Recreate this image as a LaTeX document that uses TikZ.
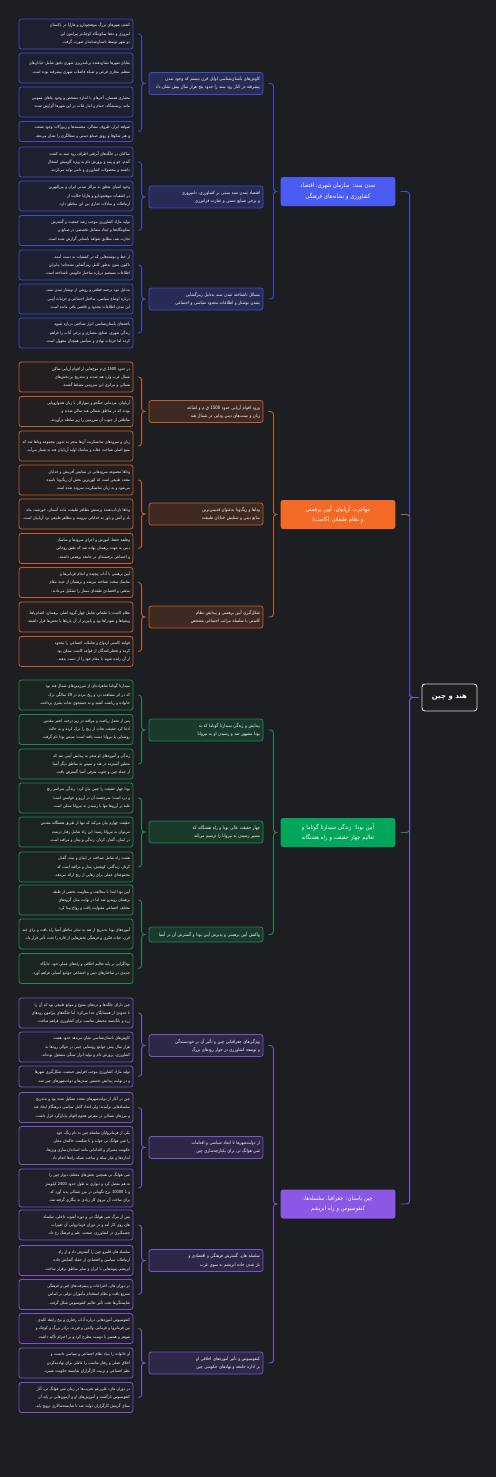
\documentclass[tikz,border=0pt]{standalone}
\usepackage{fontspec}
\usepackage{xcolor}
\usetikzlibrary{calc}
\newfontfamily\fa[Script=Arabic]{DejaVu Sans}
\newfontfamily\fanarrow[Script=Arabic, FakeStretch=0.85]{DejaVu Sans}
\TeXXeTstate=1
\newcommand\fatext[1]{\beginR #1\endR}
\newcommand\num[1]{\beginL #1\endL}

\definecolor{bg}{HTML}{1D1E22}
\definecolor{rootline}{HTML}{D9D9D9}
\definecolor{indusmain}{HTML}{4B5CF4}
\definecolor{indusline}{HTML}{3D4CD6}
\definecolor{indussub}{HTML}{272B55}
\definecolor{indusleaf}{HTML}{1E2030}
\definecolor{aryanmain}{HTML}{F26A25}
\definecolor{aryanline}{HTML}{CC5C26}
\definecolor{aryansub}{HTML}{3F2A22}
\definecolor{aryanleaf}{HTML}{231F20}
\definecolor{buddhamain}{HTML}{02A65A}
\definecolor{buddhaline}{HTML}{1B8C53}
\definecolor{buddhasub}{HTML}{1A3A2C}
\definecolor{buddhaleaf}{HTML}{1C2420}
\definecolor{chinamain}{HTML}{8A58E4}
\definecolor{chinaline}{HTML}{7A52D2}
\definecolor{chinasub}{HTML}{2E2747}
\definecolor{chinaleaf}{HTML}{211F2B}

\tikzset{
  leafbox/.style={draw=#1line, fill=#1leaf, rounded corners=2.5pt, line width=0.8pt, text width=108pt, inner xsep=3pt, inner ysep=2pt, minimum height=30pt, align=right, text=white!95!gray, font=\fanarrow\fontsize{4.2}{8.4}\selectfont},
  subbox/.style={draw=#1line, fill=#1sub, rounded corners=2.5pt, line width=0.8pt, text width=108pt, inner xsep=3pt, inner ysep=2pt, minimum height=22pt, align=right, text=white, font=\fanarrow\fontsize{4.6}{8.2}\selectfont},
  mainbox/.style={fill=#1main, rounded corners=2.5pt, text width=108pt, minimum height=29pt, align=center, text=white, font=\fanarrow\fontsize{6}{10.3}\selectfont},
  rootbox/.style={draw=rootline, fill=bg, rounded corners=3pt, line width=0.9pt, minimum width=55pt, minimum height=27pt, text=white, font=\fa\bfseries\fontsize{7}{9}\selectfont},
  link/.style={draw=#1line, line width=0.9pt, rounded corners=3pt},
}

% parent -> child, bracket #4 left of the parent
\newcommand\branch[4]{\draw[link=#1] let \p1=(#2.west), \p2=(#3.east) in (\x1-3,\y1) -- (\x1-#4,\y1) -- (\x1-#4,\y2) -- (\x2+5,\y2);}

\begin{document}
\begin{tikzpicture}[x=1pt, y=-1pt]
        \fill[bg] (0,0) rectangle (496,1477);

        % Root
        \node[rootbox] (root) at (449.5,697.5) {\fatext{هند و چین}};

        % Main topics
        \node[mainbox=indus] (indus) at (338,191.5) {\fatext{تمدن سند: سازمان شهری، اقتصاد کشاورزی و نشانه‌های فرهنگی}};
        \node[mainbox=aryan] (aryan) at (338,514.5) {\fatext{مهاجرت آریاییان، آیین برهمنی و نظام طبقاتی (کاست)}};
        \node[mainbox=buddha] (buddha) at (338,832.5) {\fatext{آیین بودا: زندگی سیدارتا گوتاما و تعالیم چهار حقیقت و راه هشتگانه}};
        \node[mainbox=china] (china) at (338,1204) {\fatext{چین باستان: جغرافیا، سلسله‌ها، کنفوسیوس و راه ابریشم}};

        % Indus
        \node[subbox=indus] (indus1) at (206,83.5) {\fatext{کاوش‌های باستان‌شناسی اوایل قرن بیستم که وجود تمدن پیشرفته در کنار رود سند را حدود پنج هزار سال پیش نشان داد}};
        \node[subbox=indus] (indus2) at (206,197) {\fatext{اقتصاد تمدن سند مبتنی بر کشاورزی، دامپروری و برخی صنایع دستی و تجارت فرامرزی}};
        \node[subbox=indus] (indus3) at (206,299) {\fatext{مسائل ناشناخته تمدن سند به‌دلیل رمزگشایی نشدن نوشتار و اطلاعات محدود سیاسی و اجتماعی}};

        \node[leafbox=indus] (indus1a) at (76,34) {\fatext{کشف شهرهای بزرگ موهنجودارو و هاراپا در پاکستان امروزی و ده‌ها سکونتگاه کوچک‌تر پیرامون این دو شهر توسط باستان‌شناسان صورت گرفت.}};
        \node[leafbox=indus] (indus1b) at (76,68) {\fatext{بقایای شهرها نشان‌دهنده برنامه‌ریزی شهری دقیق شامل خیابان‌های منظم، مجاری فرعی و شبکه فاضلاب شهری پیشرفته بوده است.}};
        \node[leafbox=indus] (indus1c) at (76,102) {\fatext{معماری همسان، آجرهای با اندازه مشخص و وجود بناهای عمومی مانند پرستشگاه، حمام و انبار غلات در این شهرها گزارش شده.}};
        \node[leafbox=indus, minimum height=20pt] (indus1d) at (76,131.5) {\fatext{شواهد ابزار، ظروف سفالی، مجسمه‌ها و زیورآلات وجود صنعت و هنر شکوفا و رونق صنایع دستی و سفالگری را نشان می‌دهد.}};
        \node[leafbox=indus] (indus2a) at (76,162) {\fatext{ساکنان در جلگه‌های آبرفتی اطراف رود سند به کشت گندم، جو و پنبه و پرورش دام به ویژه گاومیش اشتغال داشتند و محصولات کشاورزی و دامی تولید می‌کردند.}};
        \node[leafbox=indus] (indus2b) at (76,196) {\fatext{وجود اشیای متعلق به مراکز تمدنی ایران و بین‌النهرین در کشفیات موهنجودارو و هاراپا حکایت از ارتباطات و مبادلات تجاری بین این مناطق دارد.}};
        \node[leafbox=indus] (indus2c) at (76,230.5) {\fatext{تولید مازاد کشاورزی موجب رشد جمعیت و گسترش سکونتگاه‌ها و ایجاد مشاغل تخصصی در صنایع و تجارت شد، مطابق شواهد باستانی گزارش شده است.}};
        \node[leafbox=indus] (indus3a) at (76,265) {\fatext{از خط و نوشته‌هایی که در کشفیات به دست آمده، تاکنون متون به‌طور کامل رمزگشایی نشده‌اند؛ بنابراین اطلاعات مستقیم درباره ساختار حکومتی ناشناخته است.}};
        \node[leafbox=indus] (indus3b) at (76,299) {\fatext{به‌دلیل نبود ترجمه قطعی و روشن از نوشتار تمدن سند، درباره اوضاع سیاسی، ساختار اجتماعی و جزئیات آیینی این تمدن اطلاعات محدود و ناقصی باقی مانده است.}};
        \node[leafbox=indus] (indus3c) at (76,333) {\fatext{یافته‌های باستان‌شناسی ابزار شناختی درباره شیوه زندگی شهری، صنایع، معماری و برخی آداب را فراهم کرده اما جزئیات نهادی و سیاسی همچنان مجهول است.}};

        % Aryans
        \node[subbox=aryan] (aryan1) at (206,411.5) {\fatext{ورود اقوام آریایی حدود \num{1500} ق.م و اشاعه زبان و سنت‌های دینی ودایی در شمال هند}};
        \node[subbox=aryan] (aryan2) at (206,514) {\fatext{وداها و ریگ‌ودا به‌عنوان قدیمی‌ترین منابع دینی و ستایش خدایان طبیعت}};
        \node[subbox=aryan] (aryan3) at (206,617) {\fatext{شکل‌گیری آیین برهمنی و پیدایش نظام کاستی با سلسله مراتب اجتماعی مشخص}};

        \node[leafbox=aryan] (aryan1a) at (76,377) {\fatext{در حدود \num{1500} ق.م موج‌هایی از اقوام آریایی ساکن شمال غرب وارد هند شدند و به‌تدریج بر بخش‌های شمالی و مرکزی این سرزمین مسلط گشتند.}};
        \node[leafbox=aryan] (aryan1b) at (76,411.5) {\fatext{آریاییان، مردمانی جنگجو و سوارکار با زبان هندواروپایی بودند که در مناطق شمالی هند ساکن شدند و مناطقی از جنوب آن سرزمین را زیر سلطه درآوردند.}};
        \node[leafbox=aryan] (aryan1c) at (76,446) {\fatext{زبان و سرودهای سانسکریت آن‌ها منجر به تدوین مجموعه وداها شد که منبع اصلی شناخت عقاید و مناسک اولیه آریاییان هند به شمار می‌آید.}};
        \node[leafbox=aryan] (aryan2a) at (76,480) {\fatext{وداها مجموعه سرودهایی در ستایش آفرینش و خدایان متعدد طبیعی است که کهن‌ترین بخش آن ریگ‌ودا نامیده می‌شود و به زبان سانسکریت سروده شده است.}};
        \node[leafbox=aryan] (aryan2b) at (76,514) {\fatext{وداها بازتاب‌دهنده پرستش مظاهر طبیعت مانند آسمان، خورشید، ماه، باد و آتش و باور به خدایانی نیرومند و مظاهر طبیعی نزد آریاییان است.}};
        \node[leafbox=aryan] (aryan2c) at (76,548.5) {\fatext{وظیفه حفظ، آموزش و اجرای سرودها و مناسک دینی به عهده برهمنان نهاده شد که نقش روحانی و اجتماعی برجسته‌ای در جامعه برهمنی داشتند.}};
        \node[leafbox=aryan] (aryan3a) at (76,582.5) {\fatext{آیین برهمنی با آداب پیچیده و انجام قربانی‌ها و مناسک سخت شناخته می‌شد و برهمنان از حیث مقام مذهبی و اقتصادی طبقه‌ای ممتاز را تشکیل می‌دادند.}};
        \node[leafbox=aryan] (aryan3b) at (76,617) {\fatext{نظام کاست یا طبقاتی شامل چهار گروه اصلی برهمنان، کشاتریاها، ویشیاها و شودراها بود و پایین‌تر از آن پاریاها یا نجس‌ها قرار داشتند.}};
        \node[leafbox=aryan] (aryan3c) at (76,651.5) {\fatext{قواعد کاستی ازدواج و تعاملات اجتماعی را محدود کرده و تخطی‌کنندگان از قواعد کاست ممکن بود از آن رانده شوند یا مقام خود را از دست بدهند.}};

        % Buddha
        \node[subbox=buddha] (buddha1) at (206,730) {\fatext{پیدایش و زندگی سیدارتا گوتاما که به بودا مشهور شد و رسیدن او به نیروانا}};
        \node[subbox=buddha] (buddha2) at (206,832) {\fatext{چهار حقیقت عالی بودا و راه هشتگانه که مسیر رسیدن به نیروانا را ترسیم می‌کند}};
        \node[subbox=buddha, minimum height=15pt] (buddha3) at (206,934.5) {\fatext{واکنش آیین برهمنی و پذیرش آیین بودا و گسترش آن در آسیا}};

        \node[leafbox=buddha] (buddha1a) at (76,695) {\fatext{سیدارتا گوتاما شاهزاده‌ای از سرزمین‌های شمال هند بود که در اثر مشاهده درد و رنج مردم در \num{29} سالگی ترک خانواده و ریاضت کشید و به جستجوی نجات بشری پرداخت.}};
        \node[leafbox=buddha] (buddha1b) at (76,729.5) {\fatext{پس از تحمل ریاضت و مراقبه در زیر درخت انجیر مقدس ادعا کرد حقیقت نجات از رنج را درک کرده و به حالت روشنایی یا نیروانا دست یافته است؛ سپس بودا نام گرفت.}};
        \node[leafbox=buddha] (buddha1c) at (76,764) {\fatext{زندگی و آموزه‌های او منجر به پیدایش آیینی شد که به‌طور گسترده در هند و سپس به مناطق دیگر آسیا از جمله چین و جنوب شرقی آسیا گسترش یافت.}};
        \node[leafbox=buddha] (buddha2a) at (76,798) {\fatext{بودا چهار حقیقت را چنین بیان کرد: زندگی سراسر رنج و درد است؛ سرچشمه آن در آرزو و خواستن است؛ غلبه بر آرزوها تنها با رسیدن به نیروانا ممکن است.}};
        \node[leafbox=buddha] (buddha2b) at (76,832) {\fatext{حقیقت چهارم بیان می‌کند که تنها از طریق هشتگانه مقدس می‌توان به نیروانا رسید؛ این راه شامل رفتار درست در ایمان، گفتار، کردار، زندگی و پندار و مراقبه است.}};
        \node[leafbox=buddha] (buddha2c) at (76,867) {\fatext{هشت راه شامل صداقت در ایمان و نیت، گفتار، کردار، زندگانی، کوشش، پندار و مراقبه است که مجموعه‌ای عملی برای رهایی از رنج ارائه می‌دهد.}};
        \node[leafbox=buddha] (buddha3a) at (76,900) {\fatext{آیین بودا ابتدا با مخالفت و مقاومت بخشی از طبقه برهمنان روبه‌رو شد اما در نهایت میان گروه‌های مختلف اجتماعی مقبولیت یافت و رواج پیدا کرد.}};
        \node[leafbox=buddha] (buddha3b) at (76,934) {\fatext{آموزه‌های بودا به‌تدریج از هند به سایر مناطق آسیا راه یافت و برای چند قرن، حیات فکری و فرهنگی بخش‌هایی از قاره را تحت تأثیر قرار داد.}};
        \node[leafbox=buddha] (buddha3c) at (76,968.5) {\fatext{بوداگرایی بر پایه تعالیم اخلاقی و راه‌های عملی خود، جایگاه جدیدی در ساختارهای دینی و اجتماعی جوامع آسیایی فراهم آورد.}};

        % China
        \node[subbox=china] (china1) at (206,1045.5) {\fatext{ویژگی‌های جغرافیایی چین و تأثیر آن بر خودبسندگی و توسعه کشاورزی در جوار رودهای بزرگ}};
        \node[subbox=china] (china2) at (206,1147.5) {\fatext{از دولت‌شهرها تا اتحاد سیاسی و اقدامات شی هوانگ تی برای یکپارچه‌سازی چین}};
        \node[subbox=china] (china3) at (206,1260.5) {\fatext{سلسله هان، گسترش فرهنگی و اقتصادی و باز شدن جاده ابریشم به سوی غرب}};
        \node[subbox=china] (china4) at (206,1363) {\fatext{کنفوسیوس و تأثیر آموزه‌های اخلاقی او بر اداره جامعه و نهادهای حکومتی چین}};

        \node[leafbox=china] (china1a) at (76,1013) {\fatext{چین دارای جلگه‌ها و دره‌های متنوع و موانع طبیعی بود که آن را تا حدودی از همسایگان جدا می‌کرد؛ اما جلگه‌های پیرامون رودهای زرد و یانگ‌تسه محیطی مناسب برای کشاورزی فراهم ساخت.}};
        \node[leafbox=china] (china1b) at (76,1047) {\fatext{کاوش‌های باستان‌شناسی نشان می‌دهد حدود هشت هزار سال پیش جوامع روستایی چینی در حوالی رودها به کشاورزی، پرورش دام و تولید ابزار سنگی مشغول بوده‌اند.}};
        \node[leafbox=china, minimum height=21pt] (china1c) at (76,1076.5) {\fatext{تولید مازاد کشاورزی موجب افزایش جمعیت، شکل‌گیری شهرها و در نهایت پیدایش نخستین تمدن‌ها و دولت‌شهرهای چین شد.}};
        \node[leafbox=china] (china2a) at (76,1107.5) {\fatext{چین در آغاز از دولت‌شهرهای متعدد تشکیل شده بود و به‌تدریج سلسله‌هایی برآمدند؛ ولی اتحاد کامل سیاسی دیرهنگام ایجاد شد و مرزهای شمالی در معرض هجوم اقوام بیابان‌گرد قرار داشت.}};
        \node[leafbox=china, minimum height=38pt] (china2b) at (76,1145.5) {\fatext{یکی از فرمانروایان سلسله چین به نام زنگ، خود را شی هوانگ تی خواند و با شکست حاکمان محلی حکومت متمرکز و اقداماتی مانند استانداردسازی وزن‌ها، اندازه‌ها و عیار سکه و ساخت شبکه راه‌ها انجام داد.}};
        \node[leafbox=china, minimum height=38pt] (china2c) at (76,1188) {\fatext{شی هوانگ تی همچنین بخش‌های مختلف دیوار چین را به هم متصل کرد و دیواری به طول حدود \num{2400} کیلومتر و با \num{10000} برج نگهبانی در مرز شمالی پدید آورد که برای ساخت آن نیروی کار زیادی به بیگاری گرفته شد.}};
        \node[leafbox=china] (china3a) at (76,1225) {\fatext{پس از مرگ شی هوانگ تی و دوره آشوب داخلی، سلسله هان روی کار آمد و در دوران فرمانروایی آن تغییرات چشمگیری در کشاورزی، صنعت، علم و فرهنگ رخ داد.}};
        \node[leafbox=china] (china3b) at (76,1260.5) {\fatext{سلسله هان قلمرو چین را گسترش داد و از راه ارتباطات سیاسی و اقتصادی از جمله گشایش جاده ابریشم، پیوندهایی با ایران و سایر مناطق برقرار ساخت.}};
        \node[leafbox=china] (china3c) at (76,1294.5) {\fatext{در دوران هان، اختراعات و پیشرفت‌های فنی و فرهنگی تسریع یافت و نظام استخدام مأموران دولتی بر اساس شایستگی‌ها تحت تأثیر تعالیم کنفوسیوس شکل گرفت.}};
        \node[leafbox=china] (china4a) at (76,1328.5) {\fatext{کنفوسیوس آموزه‌هایی درباره آداب رفتاری و پنج رابطه کلیدی بین فرمانروا و فرمانبر، والدین و فرزند، برادر بزرگ و کوچک و شوهر و همسر یا دوست مطرح کرد و بر احترام تأکید داشت.}};
        \node[leafbox=china] (china4b) at (76,1363) {\fatext{او خانواده را بنیاد نظام اجتماعی و سیاسی دانست و اخلاق عملی و رفتار مناسب را عاملی برای نهادینه‌کردن نظم اجتماعی و تربیت کارگزاران شایسته حکومت شمرد.}};
        \node[leafbox=china] (china4c) at (76,1397.5) {\fatext{در دوران هان، علی‌رغم تخریب‌ها در زمان شی هوانگ تی، آثار کنفوسیوس بازگشت و آموزش‌های او و آزمون‌هایی بر پایه آن مبنای گزینش کارگزاران دولت شد تا شایسته‌سالاری ترویج یابد.}};

        % Brackets: root -> topics
        \begin{scope}[rounded corners=6pt]
        \branch{aryan}{root}{aryan}{12}
        \branch{buddha}{root}{buddha}{12}
        \branch{indus}{root}{indus}{12}
        \branch{china}{root}{china}{12}
        \end{scope}

        % Brackets: topics -> subtopics
        \branch{indus}{indus}{indus1}{7}
        \branch{indus}{indus}{indus3}{7}
        \branch{aryan}{aryan}{aryan1}{7}
        \branch{aryan}{aryan}{aryan3}{7}
        \branch{buddha}{buddha}{buddha1}{7}
        \branch{buddha}{buddha}{buddha3}{7}
        \branch{china}{china}{china1}{7}
        \branch{china}{china}{china4}{7}

        % Brackets: subtopics -> notes
        \branch{indus}{indus1}{indus1a}{7}
        \branch{indus}{indus1}{indus1d}{7}
        \branch{indus}{indus2}{indus2a}{7}
        \branch{indus}{indus2}{indus2c}{7}
        \branch{indus}{indus3}{indus3a}{7}
        \branch{indus}{indus3}{indus3c}{7}
        \branch{aryan}{aryan1}{aryan1a}{7}
        \branch{aryan}{aryan1}{aryan1c}{7}
        \branch{aryan}{aryan2}{aryan2a}{7}
        \branch{aryan}{aryan2}{aryan2c}{7}
        \branch{aryan}{aryan3}{aryan3a}{7}
        \branch{aryan}{aryan3}{aryan3c}{7}
        \branch{buddha}{buddha1}{buddha1a}{7}
        \branch{buddha}{buddha1}{buddha1c}{7}
        \branch{buddha}{buddha2}{buddha2a}{7}
        \branch{buddha}{buddha2}{buddha2c}{7}
        \branch{buddha}{buddha3}{buddha3a}{7}
        \branch{buddha}{buddha3}{buddha3c}{7}
        \branch{china}{china1}{china1a}{7}
        \branch{china}{china1}{china1c}{7}
        \branch{china}{china2}{china2a}{7}
        \branch{china}{china2}{china2c}{7}
        \branch{china}{china3}{china3a}{7}
        \branch{china}{china3}{china3c}{7}
        \branch{china}{china4}{china4a}{7}
        \branch{china}{china4}{china4c}{7}
    \end{tikzpicture}
\end{document}
